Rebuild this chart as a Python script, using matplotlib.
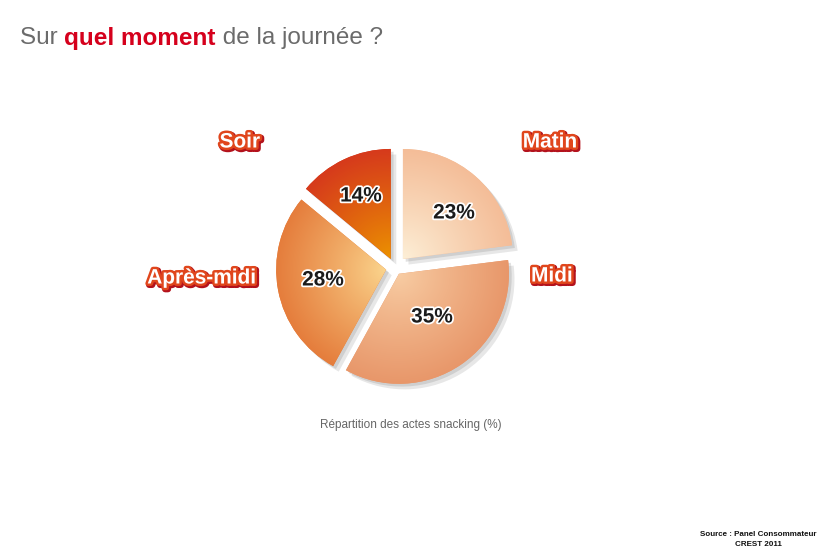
import numpy as np
import matplotlib
matplotlib.use("Agg")
import matplotlib.pyplot as plt
import matplotlib.patheffects as pe
from matplotlib.colors import to_rgb

# data
categories = ["Matin", "Midi", "Après-midi", "Soir"]
shares = [23, 35, 28, 14]
pct_labels = ["23%", "35%", "28%", "14%"]

# gradient colours (inner, outer) per slice
inner_cols = ["#fdf0d8", "#f8cda4", "#fbd68e", "#ec9400"]
outer_cols = ["#f4bd98", "#e8976a", "#e57d3c", "#d63a1c"]

FONT = ["Liberation Sans", "DejaVu Sans"]

fig = plt.figure(figsize=(8.3, 5.6), dpi=100)
fig.patch.set_facecolor("white")

# pie axes: 100 px per data unit, centre at (395, 268) px
cx, cy = 395, 268
ax = fig.add_axes([(cx - 150) / 830, (560 - cy - 150) / 560, 300 / 830, 300 / 560])

wedges, _ = ax.pie(shares, radius=1.1, startangle=90, counterclock=False,
                   explode=[0.12, 0.07, 0.09, 0.1], center=(0, 0),
                   wedgeprops=dict(linewidth=0, edgecolor="none"))

xs = np.linspace(-1.5, 1.5, 400)
X, Y = np.meshgrid(xs, xs)
for w, ci, co in zip(wedges, inner_cols, outer_cols):
    w.set_facecolor(co)
    w.set_path_effects([
        pe.SimplePatchShadow(offset=(4, -4), shadow_rgbFace="#888888", alpha=0.2),
        pe.SimplePatchShadow(offset=(2, -2), shadow_rgbFace="#888888", alpha=0.25),
        pe.Normal(),
    ])
    x0, y0 = w.center
    d = np.clip(np.hypot(X - x0, Y - y0) / w.r, 0, 1) ** 0.9
    c0, c1 = np.array(to_rgb(ci)), np.array(to_rgb(co))
    img = c0[None, None, :] * (1 - d[..., None]) + c1[None, None, :] * d[..., None]
    im = ax.imshow(img, extent=(-1.5, 1.5, -1.5, 1.5), origin="lower",
                   interpolation="bilinear", zorder=3)
    im.set_clip_path(w)
ax.set_xlim(-1.5, 1.5)
ax.set_ylim(-1.5, 1.5)
ax.set_aspect("equal")
ax.axis("off")

# category labels (pixel positions converted to figure fraction)
label_pos = [(550, 142), (552, 276), (202, 278), (240, 142)]
for name, (px, py) in zip(categories, label_pos):
    fig.text(px / 830, 1 - py / 560, name, ha="center", va="center",
             fontsize=15, fontweight="bold", color="white", family=FONT,
             path_effects=[pe.Stroke(linewidth=4.5, foreground="#b3121c", offset=(1, -1)),
                           pe.Stroke(linewidth=3.5, foreground="#e0461c"),
                           pe.Normal()])

pct_pos = [(454, 213), (432, 317), (323, 280), (361, 196)]
for lab, (px, py) in zip(pct_labels, pct_pos):
    fig.text(px / 830, 1 - py / 560, lab, ha="center", va="center",
             fontsize=15, fontweight="bold", color="#1b1b1b", family=FONT,
             path_effects=[pe.Stroke(linewidth=2.5, foreground="white"), pe.Normal()])

# title in three pieces
renderer = fig.canvas.get_renderer()
x = 20 / 830
for part, col, wt in [("Sur ", "#6b6b6b", "normal"),
                      ("quel moment", "#d5001c", "bold"),
                      (" de la journée ?", "#6b6b6b", "normal")]:
    t = fig.text(x, 1 - 38 / 560, part, ha="left", va="center", fontsize=17.5,
                 color=col, fontweight=wt, family=FONT)
    bb = t.get_window_extent(renderer)
    x += bb.width / 830

fig.text(411 / 830, 1 - 425 / 560, "Répartition des actes snacking (%)",
         ha="center", va="center", fontsize=8.5, color="#666666", family=FONT)

fig.text(758 / 830, 1 - 539 / 560, "Source : Panel Consommateur\nCREST 2011",
         ha="center", va="center", fontsize=5.8, fontweight="bold",
         color="#111111", family=FONT, linespacing=1.6)

fig.savefig("out.png", dpi=100)
